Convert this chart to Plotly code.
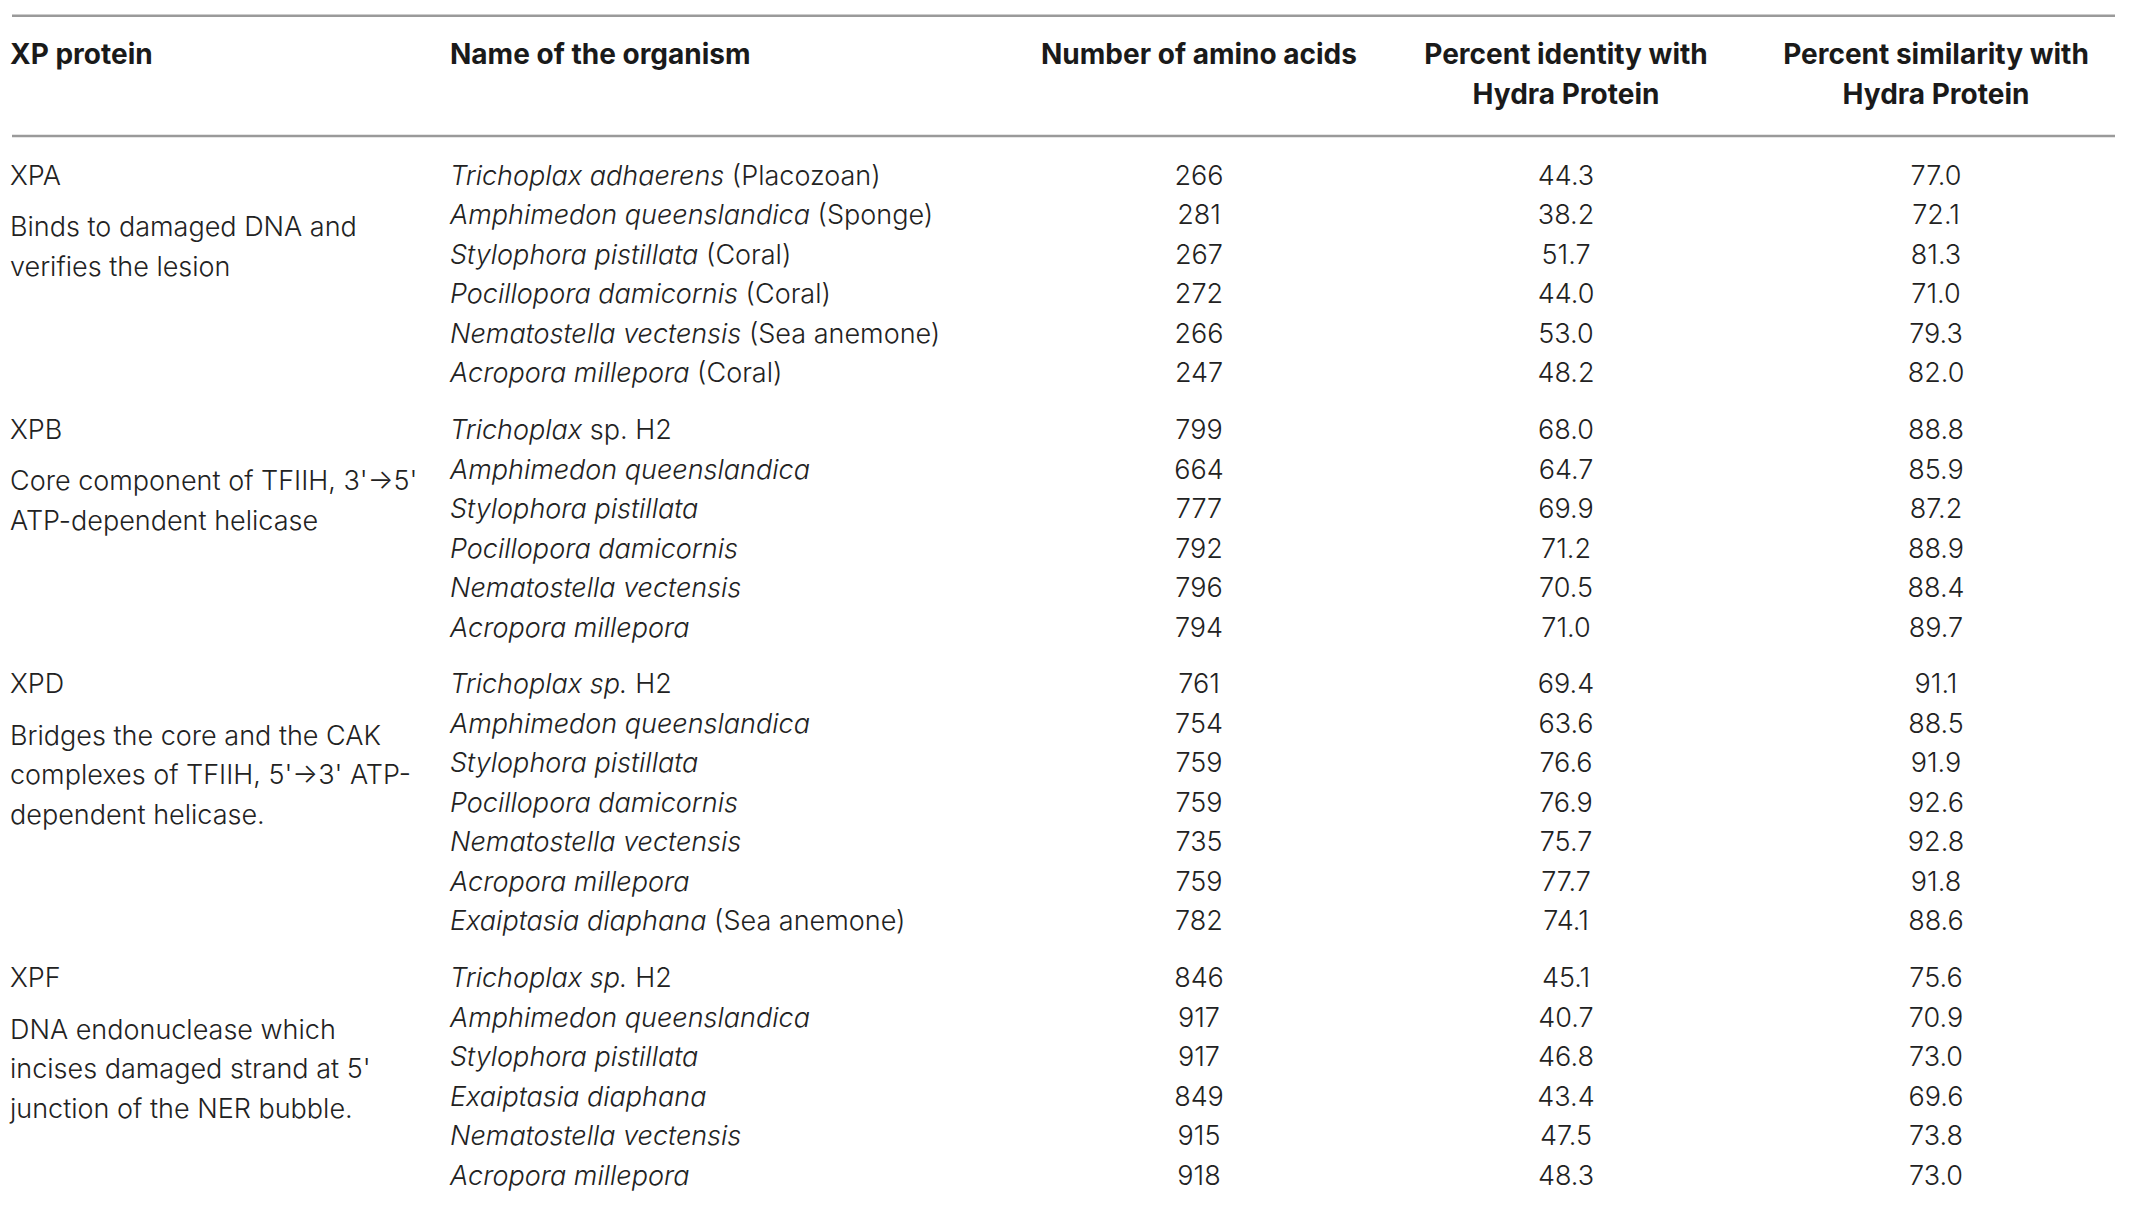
import plotly.graph_objects as go

# ---- table content ----
header_cols = [
    ["XP protein"],
    ["Name of the organism"],
    ["Number of amino acids"],
    ["Percent identity with", "Hydra Protein"],
    ["Percent similarity with", "Hydra Protein"],
]

proteins = ["XPA", "XPB", "XPD", "XPF"]
descriptions = [
    ["Binds to damaged DNA and", "verifies the lesion"],
    ["Core component of TFIIH, 3'\u21925'", "ATP-dependent helicase"],
    ["Bridges the core and the CAK", "complexes of TFIIH, 5'\u21923' ATP-", "dependent helicase."],
    ["DNA endonuclease which", "incises damaged strand at 5'", "junction of the NER bubble."],
]

# organism name: (italic part, upright part)
organisms = [
    [("Trichoplax adhaerens", " (Placozoan)"),
     ("Amphimedon queenslandica", " (Sponge)"),
     ("Stylophora pistillata", " (Coral)"),
     ("Pocillopora damicornis", " (Coral)"),
     ("Nematostella vectensis", " (Sea anemone)"),
     ("Acropora millepora", " (Coral)")],
    [("Trichoplax", " sp. H2"),
     ("Amphimedon queenslandica", ""),
     ("Stylophora pistillata", ""),
     ("Pocillopora damicornis", ""),
     ("Nematostella vectensis", ""),
     ("Acropora millepora", "")],
    [("Trichoplax sp.", " H2"),
     ("Amphimedon queenslandica", ""),
     ("Stylophora pistillata", ""),
     ("Pocillopora damicornis", ""),
     ("Nematostella vectensis", ""),
     ("Acropora millepora", ""),
     ("Exaiptasia diaphana", " (Sea anemone)")],
    [("Trichoplax sp.", " H2"),
     ("Amphimedon queenslandica", ""),
     ("Stylophora pistillata", ""),
     ("Exaiptasia diaphana", ""),
     ("Nematostella vectensis", ""),
     ("Acropora millepora", "")],
]

amino_acids = [
    [266, 281, 267, 272, 266, 247],
    [799, 664, 777, 792, 796, 794],
    [761, 754, 759, 759, 735, 759, 782],
    [846, 917, 917, 849, 915, 918],
]
identity = [
    [44.3, 38.2, 51.7, 44.0, 53.0, 48.2],
    [68.0, 64.7, 69.9, 71.2, 70.5, 71.0],
    [69.4, 63.6, 76.6, 76.9, 75.7, 77.7, 74.1],
    [45.1, 40.7, 46.8, 43.4, 47.5, 48.3],
]
similarity = [
    [77.0, 72.1, 81.3, 71.0, 79.3, 82.0],
    [88.8, 85.9, 87.2, 88.9, 88.4, 89.7],
    [91.1, 88.5, 91.9, 92.6, 92.8, 91.8, 88.6],
    [75.6, 70.9, 73.0, 69.6, 73.8, 73.0],
]

# ---- layout geometry (window pixels) ----
W, H = 2129, 1209
PAD = 8          # page body margin around the plot div
COL_LEFT = [10, 450]
COL_CENTER = [1199, 1566, 1936]
ROW0, STEP, GAP = 178, 39.5, 17.3
HEAD_Y = [57, 97]
RULES = [15.7, 136]

BODY = dict(family="Inter", size=27, color="#222222", weight=300)
HEAD = dict(family="Inter", size=28, color="#1a1a1a", weight=700)

# row positions
row_y, grp_of = [], []
i = 0
for g, orgs in enumerate(organisms):
    for _ in orgs:
        row_y.append(ROW0 + STEP * i + GAP * g)
        grp_of.append(g)
        i += 1

first_row = [row_y[grp_of.index(g)] for g in range(len(proteins))]

col1_x, col1_y, col1_t = [], [], []
for g, p in enumerate(proteins):
    col1_x.append(COL_LEFT[0]); col1_y.append(first_row[g]); col1_t.append(p)
    for k, line in enumerate(descriptions[g]):
        col1_x.append(COL_LEFT[0])
        col1_y.append(first_row[g] + STEP * (1.3 + k))
        col1_t.append(line)

org_t = [f"<i>{a}</i>{b}" for orgs in organisms for a, b in orgs]
aa_t = [str(v) for grp in amino_acids for v in grp]
id_t = [f"{v:.1f}" for grp in identity for v in grp]
sim_t = [f"{v:.1f}" for grp in similarity for v in grp]

fig = go.Figure()

def text_trace(xs, ys, texts, pos, font):
    fig.add_trace(go.Scatter(x=xs, y=ys, text=texts, mode="text",
                             textposition=pos, textfont=font,
                             hoverinfo="skip", showlegend=False))

# header
for c, lines in enumerate(header_cols):
    for k, line in enumerate(lines):
        if c < 2:
            text_trace([COL_LEFT[c]], [HEAD_Y[k]], [line], "middle right", HEAD)
        else:
            text_trace([COL_CENTER[c - 2]], [HEAD_Y[k]], [line], "middle center", HEAD)

# body
text_trace(col1_x, col1_y, col1_t, "middle right", BODY)
text_trace([COL_LEFT[1]] * len(row_y), row_y, org_t, "middle right", BODY)
text_trace([COL_CENTER[0]] * len(row_y), row_y, aa_t, "middle center", BODY)
text_trace([COL_CENTER[1]] * len(row_y), row_y, id_t, "middle center", BODY)
text_trace([COL_CENTER[2]] * len(row_y), row_y, sim_t, "middle center", BODY)

for y in RULES:
    fig.add_shape(type="line", x0=12, x1=2115, y0=y, y1=y, xref="x", yref="y",
                  line=dict(color="#9a9a9a", width=2.5))

# axes in window pixel units, offset by the page margin
fig.update_layout(
    width=W - PAD, height=H - PAD, margin=dict(l=0, r=0, t=0, b=0),
    paper_bgcolor="white", plot_bgcolor="white",
    xaxis=dict(range=[PAD, W], visible=False, fixedrange=True),
    yaxis=dict(range=[H, PAD], visible=False, fixedrange=True),
)

fig.write_html("out.html")
